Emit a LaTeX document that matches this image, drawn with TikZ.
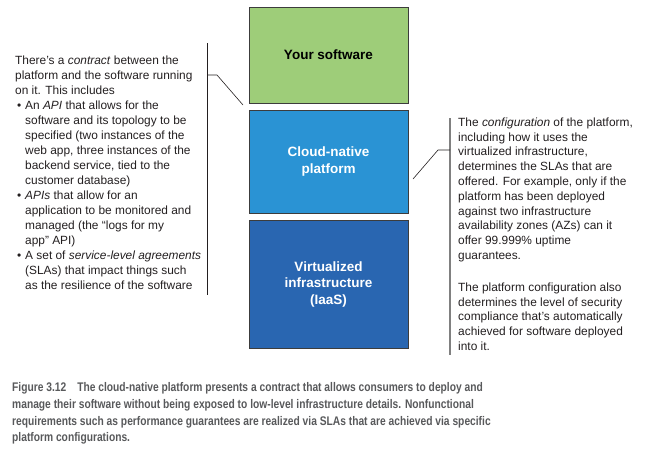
\documentclass[tikz,border=0pt]{standalone}
\usepackage{fontspec}
\setmainfont{Liberation Sans}
\newfontfamily\capfont[FakeStretch=0.82]{Liberation Sans}
\usepackage{tikz}
\usetikzlibrary{positioning}
\definecolor{swgreen}{HTML}{9ECD79}
\definecolor{platblue}{HTML}{2A93D4}
\definecolor{infrablue}{HTML}{2966B1}
\definecolor{boxedge}{HTML}{3C3C3C}
\definecolor{bodytext}{HTML}{231F20}
\definecolor{captext}{HTML}{58595B}
\begin{document}
\begin{tikzpicture}[x=1pt,y=-1pt,
    layer/.style={draw=boxedge,line width=0.8pt,minimum width=159pt,inner sep=0pt,
      font=\fontsize{13.5}{16.5}\selectfont\bfseries,align=center},
    note/.style={anchor=north west,inner sep=0pt,align=left,text=bodytext,
      font=\fontsize{11.9}{14.8}\selectfont},
    bracket/.style={line width=0.7pt,draw=bodytext},
    leader/.style={line width=0.6pt,draw=bodytext}
  ]
\useasboundingbox (0,0) rectangle (660,467);
\node[layer,fill=swgreen,minimum height=96pt,text=black] (sw) at (328.5,55) {Your software};
\node[layer,fill=platblue,minimum height=103pt,text=white] (plat) at (328.5,161.5) {Cloud-native\\platform};
\node[layer,fill=infrablue,minimum height=128pt,text=white] (iaas) at (328.5,284) {Virtualized\\infrastructure\\(IaaS)};

% contract notes on the left
\node[note,font=\fontsize{11.9}{15}\selectfont] (contract) at (15,56) {There's a \textit{contract} between the\\
platform and the software running\\
on it. This includes\\
\makebox[10pt][l]{\,\textbullet}An \textit{API} that allows for the\\
\hspace*{10pt}software and its topology to be\\
\hspace*{10pt}specified (two instances of the\\
\hspace*{10pt}web app, three instances of the\\
\hspace*{10pt}backend service, tied to the\\
\hspace*{10pt}customer database)\\
\makebox[10pt][l]{\,\textbullet}\textit{APIs} that allow for an\\
\hspace*{10pt}application to be monitored and\\
\hspace*{10pt}managed (the “logs for my\\
\hspace*{10pt}app” API)\\
\makebox[10pt][l]{\,\textbullet}A set of \textit{service-level agreements}\\
\hspace*{10pt}(SLAs) that impact things such\\
\hspace*{10pt}as the resilience of the software};
\coordinate (ltop) at (207,43); \coordinate (lbot) at (207,295);
\coordinate (lknee) at (217,75); \coordinate (lend) at (243,105);
\draw[bracket] (ltop) -- (lbot);
\draw[leader] (ltop |- lknee) -- (lknee) -- (lend);

% configuration notes on the right
\node[note] (config) at (458,117.5) {The \textit{configuration} of the platform,\\
including how it uses the\\
virtualized infrastructure,\\
determines the SLAs that are\\
offered. For example, only if the\\
platform has been deployed\\
against two infrastructure\\
availability zones (AZs) can it\\
offer 99.999\% uptime\\
guarantees.\\[17pt]
The platform configuration also\\
determines the level of security\\
compliance that's automatically\\
achieved for software deployed\\
into it.};
\coordinate (rtop) at (450,118); \coordinate (rbot) at (450,355);
\coordinate (rknee) at (438,150); \coordinate (rend) at (413,179);
\draw[line width=1.6pt,draw=gray] (rtop) -- (rbot);
\draw[leader] (rtop |- rknee) -- (rknee) -- (rend);

% caption
\node[anchor=north west,inner sep=0pt,align=left,text=captext,
  font=\capfont\fontsize{12.5}{16.9}\selectfont\bfseries] (caption) at (12,382)
{Figure 3.12\hspace{11pt}The cloud-native platform presents a contract that allows consumers to deploy and\\
manage their software without being exposed to low-level infrastructure details. Nonfunctional\\
requirements such as performance guarantees are realized via SLAs that are achieved via specific\\
platform configurations.};
\end{tikzpicture}
\end{document}
